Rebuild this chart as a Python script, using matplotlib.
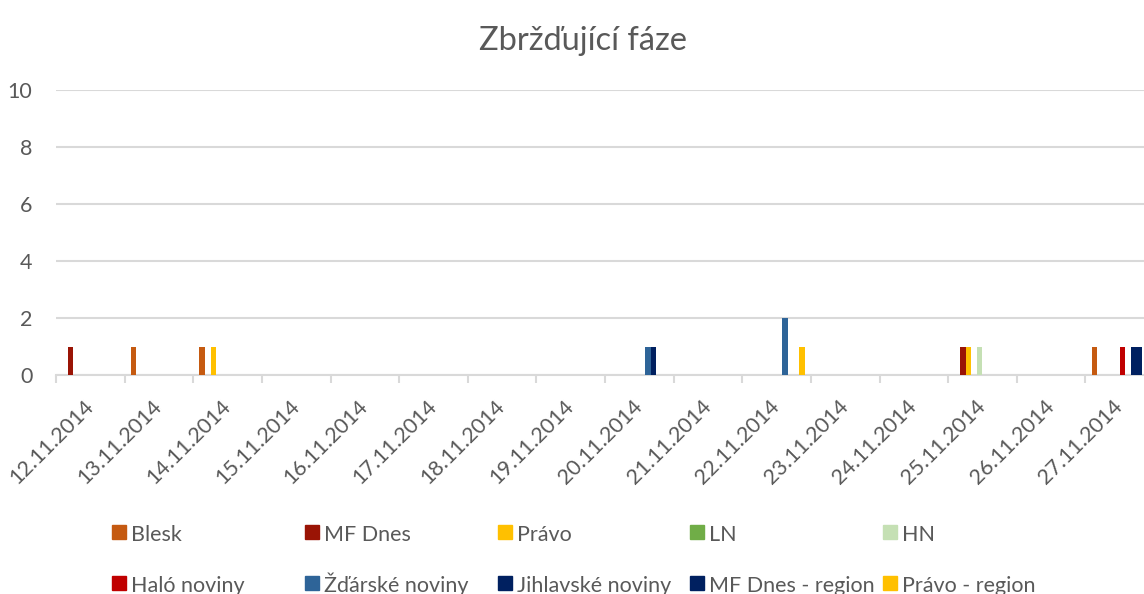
import numpy as np
import matplotlib
matplotlib.use("Agg")
import matplotlib.pyplot as plt
from matplotlib.patches import Rectangle

plt.rcParams['font.family'] = ['Lato', 'DejaVu Sans']

###  Data
dates = ["12.11.2014", "13.11.2014", "14.11.2014", "15.11.2014",
         "16.11.2014", "17.11.2014", "18.11.2014", "19.11.2014",
         "20.11.2014", "21.11.2014", "22.11.2014", "23.11.2014",
         "24.11.2014", "25.11.2014", "26.11.2014", "27.11.2014"]

series_names = ["Blesk", "MF Dnes", "Právo", "LN", "HN",
                "Haló noviny", "Žďárské noviny", "Jihlavské noviny",
                "MF Dnes - region", "Právo - region"]

blesk       = [0, 1, 1, 0, 0, 0, 0, 0, 0, 0, 0, 0, 0, 0, 0, 1]
mf_dnes     = [1, 0, 0, 0, 0, 0, 0, 0, 0, 0, 0, 0, 0, 1, 0, 0]
pravo       = [0, 0, 1, 0, 0, 0, 0, 0, 0, 0, 0, 0, 0, 1, 0, 0]
ln          = [0, 0, 0, 0, 0, 0, 0, 0, 0, 0, 0, 0, 0, 0, 0, 0]
hn          = [0, 0, 0, 0, 0, 0, 0, 0, 0, 0, 0, 0, 0, 1, 0, 0]
halo        = [0, 0, 0, 0, 0, 0, 0, 0, 0, 0, 0, 0, 0, 0, 0, 1]
zdarske     = [0, 0, 0, 0, 0, 0, 0, 0, 1, 0, 2, 0, 0, 0, 0, 0]
jihlavske   = [0, 0, 0, 0, 0, 0, 0, 0, 1, 0, 0, 0, 0, 0, 0, 1]
mf_region   = [0, 0, 0, 0, 0, 0, 0, 0, 0, 0, 0, 0, 0, 0, 0, 1]
pravo_region = [0, 0, 0, 0, 0, 0, 0, 0, 0, 0, 1, 0, 0, 0, 0, 0]

values = [blesk, mf_dnes, pravo, ln, hn, halo, zdarske, jihlavske,
          mf_region, pravo_region]

colors = ["#C55A11", "#9A1405", "#FFC000", "#70AD47", "#C5E0B4",
          "#C00000", "#2E6498", "#002060", "#002060", "#FFC000"]

###  Figure
W, H = 1144, 594
fig = plt.figure(figsize=(W / 100, H / 100), dpi=100)
# plot area runs a bit past the right edge, as in the original
ax = fig.add_axes([56 / W, 1 - 375 / H, (1154 - 56) / W, (375 - 90) / H])

grey = "#595959"
grid = "#D9D9D9"
bw = 0.082
x = np.arange(len(dates))
for i, (vals, col) in enumerate(zip(values, colors)):
    ax.bar(x + (i - 4.5) * bw, vals, width=bw, color=col, zorder=3)

ax.set_xlim(-0.5, len(dates) - 0.5)
ax.set_ylim(0, 10)
ax.set_yticks(range(0, 11, 2))
ax.yaxis.grid(True, color=grid, linewidth=1.5, zorder=0)
for s in ["top", "right", "left"]:
    ax.spines[s].set_visible(False)
ax.spines["bottom"].set_color(grid)
ax.spines["bottom"].set_linewidth(1.5)

ax.set_xticks(x)
ax.set_xticklabels(dates)
ax.set_xticks(np.arange(-0.5, len(dates)), minor=True)
ax.tick_params(axis="x", which="major", length=0, pad=20, labelsize=15.5, labelcolor=grey)
ax.tick_params(axis="x", which="minor", length=6, width=1.5, color=grid)
ax.tick_params(axis="y", length=0, pad=17, labelsize=15.5, labelcolor=grey)
plt.setp(ax.get_xticklabels(), rotation=45, ha="right", va="center",
         rotation_mode="anchor")

fig.text(583 / W, 1 - 50 / H, "Zbržďující fáze", ha="center", va="baseline",
         fontsize=23.5, color=grey)

# legend, laid out like the Excel one (5 columns, 2 rows)
col_x = [112, 305, 498, 690, 883]
row_y = [541, 592]
for i, (name, col) in enumerate(zip(series_names, colors)):
    lx = col_x[i % 5]
    ly = row_y[i // 5]
    fig.add_artist(Rectangle((lx / W, 1 - (ly - 2) / H), 14 / W, 14 / H,
                             transform=fig.transFigure, color=col))
    fig.text((lx + 19) / W, 1 - ly / H, name, ha="left", va="baseline",
             fontsize=15.5, color=grey)

plt.savefig("out.png", dpi=100)
